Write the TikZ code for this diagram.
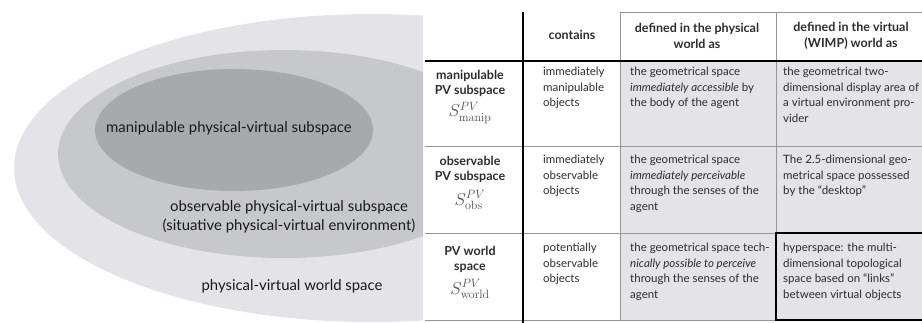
\documentclass[tikz,border=0pt]{standalone}
\usepackage[no-math]{fontspec}
\setmainfont{Lato}
\usepackage{xcolor}
\usepackage{tikz}
\usetikzlibrary{positioning}

\definecolor{worldgray}{RGB}{228,228,232}
\definecolor{obsgray}{RGB}{199,200,204}
\definecolor{manipgray}{RGB}{167,169,173}
\definecolor{cellgray}{RGB}{228,228,232}
\definecolor{rulegray}{RGB}{150,150,150}
\definecolor{inkgray}{RGB}{45,45,45}

\tikzset{
  spacelabel/.style={align=center,inner sep=0,text=black!90,font=\fontsize{14.9}{19}\selectfont},
  headtext/.style={align=center,inner sep=0,text=inkgray,font=\fontsize{12.5}{16}\selectfont\bfseries},
  celltext/.style={align=left,anchor=north west,inner sep=0,text=inkgray,font=\fontsize{11.5}{15.5}\selectfont},
  rowhead/.style={align=center,inner sep=0,text=inkgray,font=\fontsize{12.5}{15}\selectfont\bfseries},
  symtext/.style={inner sep=0,text=black!70,font=\fontsize{17}{18}\selectfont},
  thinrule/.style={rulegray,line width=0.8pt},
  thickrule/.style={black,line width=2pt}
}

\begin{document}
\begin{tikzpicture}[x=1pt,y=-1pt]
\useasboundingbox (0,0) rectangle (922,323);

\begin{scope}
\clip (0,0) rectangle (423,323);
\fill [worldgray]	(372,168) ellipse [x radius=358pt, y radius=154pt];
\fill [obsgray]	(284,154) ellipse [x radius=226pt, y radius=104pt];
\fill [manipgray]	(234,130) ellipse [x radius=139pt, y radius=61pt];
\end{scope}

\node (manip_label)	at (229,128)	[spacelabel] {manipulable physical-virtual subspace};
\node (obs_label)	at (289,217)	[spacelabel] {observable physical-virtual subspace\\(situative physical-virtual environment)};
\node (world_label)	at (292,286)	[spacelabel] {physical-virtual world space};

\fill [cellgray] (620,61) rectangle (922,320);

\draw [thinrule] (620,12) -- (922,12);
\draw [thinrule] (620,12) -- (620,320);
\draw [thinrule] (776,12) -- (776,320);
\draw [thinrule] (425,146) -- (922,146);
\draw [thinrule] (425,233) -- (776,233);
\draw [thinrule] (425,320) -- (776,320);
\draw [thickrule] (523,12) -- (523,323);
\draw [thickrule] (425,61) -- (922,61);
\draw [thickrule] (923,233) -- (776,233) -- (776,320) -- (923,320);

\node (head_contains)	at (572,35)	[headtext] {contains};
\node (head_physical)	at (697,36)	[headtext] {defined in the physical\\world as};
\node (head_virtual)	at (851,36)	[headtext] {defined in the virtual\\(WIMP) world as};

\node (row_manip)	at (470,83)	[rowhead] {manipulable\\PV subspace};
\node (sym_manip)	at (470,113)	[symtext] {$S^{PV}_{\mathrm{manip}}$};
\node (row_obs)	at (470,169)	[rowhead] {observable\\PV subspace};
\node (sym_obs)	at (470,200)	[symtext] {$S^{PV}_{\mathrm{obs}}$};
\node (row_world)	at (470,259)	[rowhead] {PV world\\space};
\node (sym_world)	at (470,289)	[symtext] {$S^{PV}_{\mathrm{world}}$};

\node (contains_manip)	at (543,67)	[celltext] {immediately\\manipulable\\objects};
\node (contains_obs)	at (543,155)	[celltext] {immediately\\observable\\objects};
\node (contains_world)	at (543,243)	[celltext] {potentially\\observable\\objects};

\node (physical_manip)	at (630,67)	[celltext] {the geometrical space\\\textit{immediately accessible} by\\the body of the agent};
\node (physical_obs)	at (630,155)	[celltext] {the geometrical space\\\textit{immediately perceivable}\\through the senses of the\\agent};
\node (physical_world)	at (630,243)	[celltext] {the geometrical space tech-\\\textit{nically possible to perceive}\\through the senses of the\\agent};

\node (virtual_manip)	at (783,67)	[celltext] {the geometrical two-\\dimensional display area of\\a virtual environment pro-\\vider};
\node (virtual_obs)	at (783,155)	[celltext] {The 2.5-dimensional geo-\\metrical space possessed\\by the “desktop”};
\node (virtual_world)	at (783,243)	[celltext] {hyperspace: the multi-\\dimensional topological\\space based on “links”\\between virtual objects};

\end{tikzpicture}
\end{document}
